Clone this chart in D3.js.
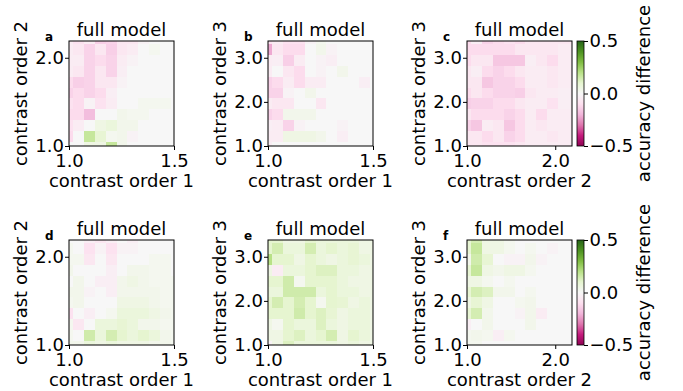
<!DOCTYPE html>
<html>
<head>
<meta charset="utf-8">
<script src="https://cdn.jsdelivr.net/npm/d3@7"></script>
<style>
  body { margin: 0; background: #fff; }
  text { font-family: "DejaVu Sans", sans-serif; fill: #000; }
</style>
</head>
<body>
<svg id="fig" width="683" height="391"></svg>
<script>
// ---- data -------------------------------------------------------------
// Each grid: 11 rows (top -> bottom) x 11 columns (left -> right) of accuracy difference
const panelLetters = ["a", "b", "c", "d", "e", "f"];
const panelTitle = "full model";
const xAxisNames = ["contrast order 1", "contrast order 1", "contrast order 2"];
const yAxisNames = ["contrast order 2", "contrast order 3", "contrast order 3"];
const order1Ticks = [1.0, 1.5];
const order2Ticks = [1.0, 2.0];
const order3Ticks = [1.0, 2.0, 3.0];
const colorbarTicks = [-0.5, 0.0, 0.5];
const colorbarLabel = "accuracy difference";

const gridA = [
  [-0.05,-0.09,-0.05,-0.14,-0.13,-0.07,-0.07,-0.02,0,0,0],
  [-0.05,-0.07,-0.13,-0.07,-0.14,-0.07,-0.05,0,0.02,0,0],
  [-0.05,-0.05,-0.13,-0.11,-0.13,-0.05,-0.02,0,0,0,0],
  [-0.05,-0.07,-0.13,-0.07,-0.13,-0.04,0,0,0,0,0],
  [-0.11,-0.14,-0.13,-0.07,-0.07,-0.02,0,0,0,0,0],
  [-0.13,-0.11,-0.13,-0.11,-0.04,0,0,0,0,0,0],
  [-0.09,-0.11,-0.02,-0.09,-0.05,0,0,0.02,0.02,0.02,0],
  [-0.11,-0.11,-0.18,0,0,0.03,0.02,0.02,0,0,0],
  [-0.09,-0.05,0,0.05,0.07,0.03,0.03,0,0,0,0],
  [-0.11,0,0.17,0.09,0.02,0.03,-0.02,0,0,0,0],
  [0,0,0.05,0.05,0.17,0.03,0,0,0,0,0]
];
const gridB = [
  [-0.09,-0.05,-0.09,-0.09,-0.02,0.02,0,0,0,0,0],
  [-0.22,-0.07,-0.11,-0.11,0,0.03,-0.02,0,0,0,0],
  [-0.05,-0.04,-0.14,-0.05,0,-0.02,-0.04,0,0,0,0],
  [-0.05,0,-0.07,-0.11,0,-0.02,0,0.03,0,0,0],
  [-0.13,-0.11,-0.05,-0.11,-0.05,-0.05,0,0,0,-0.04,0],
  [-0.13,-0.13,-0.02,0,0.03,0,0,0,0,0,0],
  [-0.05,-0.07,-0.07,0,0,-0.07,0,0,0,0,0],
  [-0.13,-0.11,0.03,0.03,0.03,0,0,0,0,0,0],
  [-0.04,-0.05,-0.13,-0.02,0,0,0,-0.02,0,0,0],
  [-0.05,-0.05,0.05,0.05,0.05,0.03,0,-0.04,0,0,0],
  [-0.04,0,0,0,0,0,0,0,0,0,0]
];
const gridC = [
  [-0.11,-0.04,-0.13,-0.11,-0.09,-0.11,-0.07,-0.07,-0.07,-0.07,-0.07],
  [-0.11,-0.11,-0.11,-0.11,-0.11,-0.07,-0.07,-0.07,-0.07,-0.05,-0.05],
  [-0.11,-0.07,-0.07,-0.16,-0.16,-0.16,-0.04,-0.07,-0.11,-0.05,-0.05],
  [-0.07,-0.04,-0.11,-0.13,-0.11,-0.07,-0.05,-0.05,-0.07,-0.05,-0.05],
  [-0.07,-0.07,-0.16,-0.13,-0.13,-0.11,-0.05,-0.05,-0.07,-0.05,-0.05],
  [-0.11,-0.07,-0.11,-0.13,-0.13,-0.14,-0.07,-0.05,-0.05,-0.04,-0.04],
  [-0.14,-0.13,-0.13,-0.11,-0.11,-0.07,-0.05,-0.05,-0.09,-0.04,-0.04],
  [-0.07,-0.11,-0.11,-0.11,-0.13,-0.11,-0.05,-0.11,-0.05,-0.05,-0.05],
  [-0.13,-0.16,-0.05,-0.07,-0.16,-0.11,-0.05,-0.07,-0.05,-0.05,-0.05],
  [-0.07,-0.07,-0.11,-0.07,-0.13,-0.11,-0.05,-0.05,-0.07,-0.05,-0.05],
  [-0.07,-0.07,-0.09,-0.09,-0.09,-0.07,-0.05,-0.05,-0.05,-0.05,-0.05]
];
const gridD = [
  [0,0,-0.04,-0.07,-0.04,0,-0.04,0,0,0,0],
  [0.02,0,-0.09,-0.02,-0.09,-0.02,-0.02,0,0,0,0],
  [0.02,0.02,-0.07,0,-0.07,0,0,0,0.02,0.02,0],
  [0.03,0,0,0,-0.04,0,0.03,0.03,0.02,0.02,0],
  [0,0.03,0,-0.04,-0.04,0.03,0.05,0.03,0.02,0.02,0.02],
  [0.03,0.03,-0.02,0,-0.04,0.03,0.03,0.03,0.03,0.02,0.02],
  [0.02,0.03,0,0,0,0.05,0.05,0.05,0.03,0.02,0.02],
  [-0.09,0,-0.04,0,0.02,0.07,0.07,0.07,0.05,0.03,0.02],
  [0.02,-0.07,0,0.07,0.07,0.09,0.07,0.03,0.03,0.02,0.02],
  [0.02,0,0.15,0.07,0.14,0.10,0.07,0.10,0.07,0.03,0.02],
  [0.03,0.03,0.07,0.05,0.07,0.05,0.05,0.05,0.03,0.03,0.02]
];
const gridE = [
  [0.10,0.10,0.05,0.05,0.10,0.07,0.07,0.07,0.07,0.05,0.05],
  [0.10,0.14,0.07,0.07,0.14,0.07,0.10,0.07,0.09,0.05,0.05],
  [0.20,0.10,0.10,0.05,0.10,0.07,0.05,0.07,0.09,0.07,0.05],
  [0.05,-0.05,0.07,0.07,0.10,0.12,0.12,0.07,0.07,0.05,0.05],
  [0.10,0.10,0.15,0.02,0.10,0.10,0.10,0.07,0.05,0.05,0.05],
  [0.07,0.07,0.15,0.15,0.15,0.07,0.10,0.07,0.07,0.05,0.05],
  [0.10,0.14,0.10,0.14,0.10,0.02,0.10,0.09,0.05,0.07,0.05],
  [0.10,0.10,0.10,0.15,0.10,0.12,0.09,0.05,0.07,0.07,0.05],
  [0.05,0.02,0.10,0.07,0.07,0.12,0.07,0.05,0.07,0.07,0.05],
  [0.05,0.05,0.10,0.12,0.07,0.10,0.14,0.05,0.10,0.07,0.05],
  [-0.02,0.05,0.12,0.07,0.07,0.07,0.07,0.05,0.07,0.05,0.05]
];
const gridF = [
  [0.09,0.14,0.05,0.05,0.02,0,0,0,0,0,0],
  [0.09,0.17,0.05,0.05,0.02,0,0.02,0,-0.02,0,0],
  [0.03,0.15,0.09,0,-0.02,-0.02,0.03,-0.02,0,0,0],
  [0.09,0.17,0.05,0.03,0.05,0.05,0.02,0,0,0,0],
  [0.05,0.05,0.02,0,0.02,0,0,0,0,0,0],
  [0.09,0.14,0.12,0.03,0.03,0,0.02,0,0,0,0],
  [0.05,0.09,0.05,0,0,0.02,0.03,0,0,0,0],
  [0.09,0.14,0.03,0,0,-0.02,0.03,-0.05,0,0,0],
  [-0.04,0,0.03,0,0,0,0.03,0,0,0,0],
  [0.02,0.03,0.02,-0.04,0.02,0,0,0,0,0,0],
  [0.02,0.02,0,0,0,0,0,0,0,0,0]
];
const grids = [gridA, gridB, gridC, gridD, gridE, gridF];

// ---- layout -------------------------------------------------------------
const axisRange = {
  "contrast order 1": [1.0, 1.5],
  "contrast order 2": [1.0, 2.19],
  "contrast order 3": [1.0, 3.38]
};
const axisTicks = {
  "contrast order 1": order1Ticks,
  "contrast order 2": order2Ticks,
  "contrast order 3": order3Ticks
};
const colLeft = [69, 268, 467];
const rowTop = [41, 240];
const size = 105;
const cellsPerSpan = 9.65;   // full bins visible inside an axis span
const firstOffset = 0.37;    // fraction of a bin shown at the low edge

// PiYG, 11 anchor colours, linearly interpolated
const piyg = ["#8e0152","#c51b7d","#de77ae","#f1b6da","#fde0ef","#f7f7f7",
              "#e6f5d0","#b8e186","#7fbc41","#4d9221","#276419"];
const color = d3.scaleLinear()
  .domain(d3.range(11).map(i => -0.5 + i * 0.1))
  .range(piyg)
  .interpolate(d3.interpolateRgb)
  .clamp(true);

const svg = d3.select("#fig");
const defs = svg.append("defs");
const fmt = d3.format(".1f");
const fs = 18;

// bin edges (in data units) along one axis, clamped to the axis range
function binEdges(lo, hi, n) {
  const step = (hi - lo) / cellsPerSpan;
  const edges = [];
  for (let k = 0; k <= n; k++) {
    const v = lo + (k - 1 + firstOffset) * step;
    edges.push(Math.max(lo, Math.min(hi, v)));
  }
  edges[0] = lo;
  edges[n] = hi;
  return edges;
}

grids.forEach((grid, p) => {
  const col = p % 3, row = Math.floor(p / 3);
  const x0 = colLeft[col], y0 = rowTop[row];
  const xName = xAxisNames[col], yName = yAxisNames[col];
  const x = d3.scaleLinear().domain(axisRange[xName]).range([x0, x0 + size]);
  const y = d3.scaleLinear().domain(axisRange[yName]).range([y0 + size, y0]);
  const nRows = grid.length, nCols = grid[0].length;
  const xe = binEdges(...axisRange[xName], nCols);
  const ye = binEdges(...axisRange[yName], nRows);

  const g = svg.append("g");
  const cells = [];
  grid.forEach((r, i) => r.forEach((v, j) => {
    const yi = nRows - 1 - i;  // row 0 is the top bin
    cells.push({ v, x1: xe[j], x2: xe[j + 1], y1: ye[yi], y2: ye[yi + 1] });
  }));
  g.selectAll("rect.cell").data(cells).join("rect")
    .attr("class", "cell")
    .attr("x", d => x(d.x1))
    .attr("y", d => y(d.y2))
    .attr("width", d => x(d.x2) - x(d.x1) + 0.4)
    .attr("height", d => y(d.y1) - y(d.y2) + 0.4)
    .attr("fill", d => color(d.v))
    .attr("shape-rendering", "crispEdges");

  // frame
  g.append("rect")
    .attr("x", x0).attr("y", y0).attr("width", size).attr("height", size)
    .attr("fill", "none").attr("stroke", "#000").attr("stroke-width", 1);

  // axes
  const xAxis = g.append("g").attr("transform", `translate(0,${y0 + size})`)
    .call(d3.axisBottom(x).tickValues(axisTicks[xName]).tickFormat(fmt)
      .tickSize(4).tickPadding(4).tickSizeOuter(0));
  const yAxis = g.append("g").attr("transform", `translate(${x0},0)`)
    .call(d3.axisLeft(y).tickValues(axisTicks[yName]).tickFormat(fmt)
      .tickSize(4).tickPadding(1).tickSizeOuter(0));
  [xAxis, yAxis].forEach(a => {
    a.select(".domain").remove();
    a.selectAll("text").attr("font-size", fs).attr("font-family", "DejaVu Sans").attr("fill", "#000");
    a.selectAll("line").attr("stroke", "#000");
  });

  // titles & labels
  g.append("text").attr("x", x0 + size / 2).attr("y", y0 - 5.5)
    .attr("text-anchor", "middle").attr("font-size", fs).text(panelTitle);
  g.append("text").attr("x", x0 + size / 2).attr("y", y0 + size + 40.5)
    .attr("text-anchor", "middle").attr("font-size", fs).text(xName);
  g.append("text")
    .attr("transform", `translate(${x0 - 42},${y0 + size / 2}) rotate(-90)`)
    .attr("text-anchor", "middle").attr("font-size", fs).text(yName);
  g.append("text").attr("x", x0 - 24).attr("y", y0 - 0.3)
    .attr("font-size", 12).attr("font-weight", "bold").text(panelLetters[p]);
});

// ---- colour bars ---------------------------------------------------------
const grad = defs.append("linearGradient").attr("id", "piygGrad")
  .attr("x1", 0).attr("y1", 1).attr("x2", 0).attr("y2", 0);
piyg.forEach((c, i) => grad.append("stop").attr("offset", i / 10).attr("stop-color", c));

const cbX = 577, cbW = 7;
rowTop.forEach(top => {
  const cb = svg.append("g");
  const s = d3.scaleLinear().domain([-0.5, 0.5]).range([top + size, top]);
  cb.append("rect").attr("x", cbX).attr("y", top).attr("width", cbW).attr("height", size)
    .attr("fill", "url(#piygGrad)").attr("stroke", "#000").attr("stroke-width", 0.8);
  const ax = cb.append("g").attr("transform", `translate(${cbX + cbW},0)`)
    .call(d3.axisRight(s).tickValues(colorbarTicks)
      .tickFormat(d => d3.format(".1f")(d).replace("-", "\u2212"))
      .tickSize(4).tickPadding(1.5).tickSizeOuter(0));
  ax.select(".domain").remove();
  ax.selectAll("text").attr("font-size", fs).attr("font-family", "DejaVu Sans").attr("fill", "#000");
  ax.selectAll("line").attr("stroke", "#000");
  cb.append("text")
    .attr("transform", `translate(650,${top + size / 2}) rotate(-90)`)
    .attr("text-anchor", "middle").attr("font-size", fs).text(colorbarLabel);
});
</script>
</body>
</html>
